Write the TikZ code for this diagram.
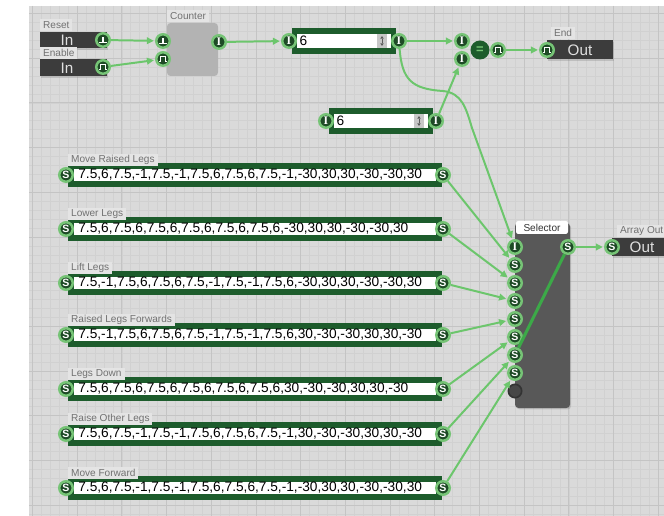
\documentclass[tikz,border=0pt]{standalone}
\usepackage{fontspec}
\setmainfont{Liberation Sans}
\newfontfamily\serifa{Liberation Serif}
\usepackage{tikz}
\usetikzlibrary{calc,positioning,arrows.meta,shadows}
\definecolor{fundo}{HTML}{DADADA}
\definecolor{grade}{HTML}{D1D1D1}
\definecolor{gradeforte}{HTML}{C4C4C4}
\definecolor{verdeescuro}{HTML}{1E4A26}
\definecolor{verdeclaro}{HTML}{76C476}
\definecolor{moldura}{HTML}{1D5C2C}
\definecolor{fio}{HTML}{6CC66C}
\definecolor{fiointerno}{HTML}{3CA948}
\definecolor{escuro}{HTML}{3C3C3C}
\definecolor{aba}{HTML}{E4E4E4}
\definecolor{abatexto}{HTML}{717171}
\definecolor{contador}{HTML}{B3B3B3}
\definecolor{seletor}{HTML}{585858}

\begin{document}
\begin{tikzpicture}[x=0.03cm,y=-0.03cm,
  porta/.style={circle, draw=verdeclaro, line width=2.1pt, fill=verdeescuro, minimum size=0.405cm, inner sep=0pt, text=white, font=\fontsize{9}{9}\selectfont\bfseries},
  portai/.style={porta, font=\fontsize{10}{10}\selectfont\serifa\bfseries},
  pulso/.style={porta, path picture={\draw[white, line width=1.1pt] ([shift={(-3.6pt,-2.2pt)}]path picture bounding box.center) -- ++(1.7pt,0pt) -- ++(0pt,4.4pt) -- ++(3.8pt,0pt) -- ++(0pt,-4.4pt) -- ++(1.7pt,0pt);}},
  gatilho/.style={porta, path picture={\draw[white, line width=1.1pt] ([shift={(-3.6pt,-2.2pt)}]path picture bounding box.center) -- ++(7.2pt,0pt) ([shift={(0pt,-2.2pt)}]path picture bounding box.center) -- ++(0pt,4.6pt);}},
  vazia/.style={circle, draw=black!80, line width=1.4pt, fill=black!72, minimum size=0.4cm, inner sep=0pt},
  campo/.style={draw=moldura, line width=5pt, fill=white, minimum height=0.54cm, inner ysep=0pt, inner xsep=6pt, align=left, font=\fontsize{11.7}{13}\selectfont},
  spin/.style={fill=black!22, minimum width=0.3cm, minimum height=0.42cm, inner sep=0pt, path picture={
    \fill[black!65] ([shift={(-1.5pt,2pt)}]path picture bounding box.center) -- ++(3pt,0pt) -- ++(-1.5pt,2.2pt) -- cycle;
    \fill[black!65] ([shift={(-1.5pt,-2pt)}]path picture bounding box.center) -- ++(3pt,0pt) -- ++(-1.5pt,-2.2pt) -- cycle;
    \draw[black!65, line width=0.5pt] ([yshift=-2pt]path picture bounding box.center) -- ([yshift=2pt]path picture bounding box.center);}},
  abarotulo/.style={fill=aba, text=abatexto, font=\fontsize{8.6}{10}\selectfont, inner xsep=2.5pt, inner ysep=0pt, minimum height=0.36cm, anchor=south west},
  caixa/.style={fill=escuro, minimum height=0.5cm, inner sep=0pt, drop shadow={shadow xshift=1pt, shadow yshift=-1.2pt, opacity=.3}},
  textocx/.style={text=white!88!black, font=\fontsize{13}{13}\selectfont, inner sep=0pt},
  liga/.style={draw=fio, line width=1.7pt, -{Triangle[length=2.1mm,width=2mm]}, shorten >=1pt}]
  \useasboundingbox (0,0) rectangle (664,516);
  \fill[fundo] (29,6) rectangle (668,520);
  \foreach \i in {0,...,70} \draw[grade, line width=0.3pt] ({32.3+8.94*\i},6) -- ({32.3+8.94*\i},520);
  \foreach \i in {0,...,56} \draw[grade, line width=0.3pt] (29,{13.3+8.94*\i}) -- (668,{13.3+8.94*\i});
  \foreach \i in {0,...,14} \draw[gradeforte, line width=0.5pt] ({32.3+44.7*\i},6) -- ({32.3+44.7*\i},520);
  \foreach \i in {0,...,11} \draw[gradeforte, line width=0.5pt] (29,{13.3+44.7*\i}) -- (668,{13.3+44.7*\i});

  \node[caixa, anchor=north west, minimum width=2.01cm, minimum height=0.48cm] (rstcx) at (40,32) {};
  \node[textocx] (rsttx) at (67,40) {In};
  \node[abarotulo] (rstrot) at (40,31) {Reset};
  \node[caixa, anchor=north west, minimum width=2.01cm, minimum height=0.51cm] (encx) at (40,59) {};
  \node[textocx] (entx) at (67,68) {In};
  \node[abarotulo] (enrot) at (40,59) {Enable};
  \node[gatilho] (rstP) at (103,40) {};
  \node[pulso] (enP) at (103,67) {};

  \node[abarotulo] (controt) at (167,22) {Counter};
  \node[fill=contador, rounded corners=3pt, minimum width=1.53cm, minimum height=1.59cm] (cont) at (192.5,49.5) {};
  \node[gatilho] (cntR) at (163,41) {};
  \node[pulso] (cntE) at (163,59) {};
  \node[portai] (cntI) at (219,42) {I};

  \foreach \n/\x/\y in {A/289/41,B/326/121}{
    \node[campo, text width=2.67cm, inner xsep=4.25pt, minimum height=0.6cm] (int\n) at (\x+55,\y) {6};
    \node[spin] (spin\n) at (\x+93,\y) {};
    \node[portai] (ent\n) at (\x,\y) {I};
    \node[portai] (sai\n) at (\x+110,\y) {I};}

  \node[circle, fill=moldura, minimum size=0.57cm, inner sep=0pt, text=verdeclaro, font=\fontsize{11}{11}\selectfont\bfseries] (cmpEq) at (480,50) {=};
  \node[portai] (cmpA) at (462,41) {I};
  \node[portai] (cmpB) at (462,59) {I};
  \node[pulso] (cmpP) at (498,50) {};

  \node[abarotulo] (fimrot) at (551,39) {End};
  \node[caixa, anchor=west, minimum width=1.98cm, minimum height=0.57cm] (fimcx) at (547,50) {};
  \node[textocx] (fimtx) at (580,50) {Out};
  \node[pulso] (fimP) at (547,50) {};

  \foreach \k/\y/\nome/\val in {
    1/175/Move Raised Legs/{7.5,6,7.5,-1,7.5,-1,7.5,6,7.5,6,7.5,-1,-30,30,30,-30,-30,30},
    2/229/Lower Legs/{7.5,6,7.5,6,7.5,6,7.5,6,7.5,6,7.5,6,-30,30,30,-30,-30,30},
    3/283/Lift Legs/{7.5,-1,7.5,6,7.5,6,7.5,-1,7.5,-1,7.5,6,-30,30,30,-30,-30,30},
    4/335/Raised Legs Forwards/{7.5,-1,7.5,6,7.5,6,7.5,-1,7.5,-1,7.5,6,30,-30,-30,30,30,-30},
    5/389/Legs Down/{7.5,6,7.5,6,7.5,6,7.5,6,7.5,6,7.5,6,30,-30,-30,30,30,-30},
    6/434/Raise Other Legs/{7.5,6,7.5,-1,7.5,-1,7.5,6,7.5,6,7.5,-1,30,-30,-30,30,30,-30},
    7/488/Move Forward/{7.5,6,7.5,-1,7.5,-1,7.5,6,7.5,6,7.5,-1,-30,30,30,-30,-30,30}}{
    \node[campo, text width=10.6cm] (campo\k) at (255,\y) {\val};
    \node[abarotulo] (rot\k) at (68,\y-9) {\nome};
    \node[porta] (ent\k) at (66,\y) {S};
    \node[porta] (sai\k) at (443,\y) {S};}

  \node[fill=seletor, rounded corners=3pt, minimum width=1.65cm, minimum height=5.55cm, drop shadow={shadow xshift=1pt, shadow yshift=-1.2pt, opacity=.3}] (sel) at (542.5,315.5) {};
  \node[fill=white, rounded corners=2pt, minimum width=1.56cm, minimum height=0.39cm, inner sep=0pt, text=black!80, font=\fontsize{8.6}{10}\selectfont] (selrot) at (542,227.5) {Selector};
  \node[portai] (selI) at (515,247) {I};
  \foreach \k in {1,...,7} \node[porta] (selS\k) at (515,{247+18*\k}) {S};
  \node[vazia] (selV) at (515,391) {};
  \node[porta] (selO) at (568,247) {S};

  \node[abarotulo] (arrrot) at (617,237) {Array Out};
  \node[caixa, anchor=west, minimum width=1.56cm, minimum height=0.55cm] (arrcx) at (612,247) {};
  \node[textocx] (arrtx) at (642,247) {Out};
  \node[porta] (arrP) at (612,247) {S};

  \draw[liga] (rstP) -- (cntR);
  \draw[liga] (enP) -- (cntE);
  \draw[liga] (cntI) -- (entA);
  \draw[liga] (saiA) -- (cmpA);
  \draw[liga] (saiB) -- (cmpB);
  \draw[liga] (cmpP) -- (fimP);
  \draw[liga] (saiA) .. controls (402,80) and (412,89) .. (443,91) .. controls (462,93) and (466,108) .. (472,128) -- (selI);
  \foreach \k in {1,...,7} \draw[liga] (sai\k) -- (selS\k);
  \draw[liga] (selO) -- (arrP);
  \draw[fiointerno, line width=2.6pt] (selO) -- (selS6);
\end{tikzpicture}
\end{document}
